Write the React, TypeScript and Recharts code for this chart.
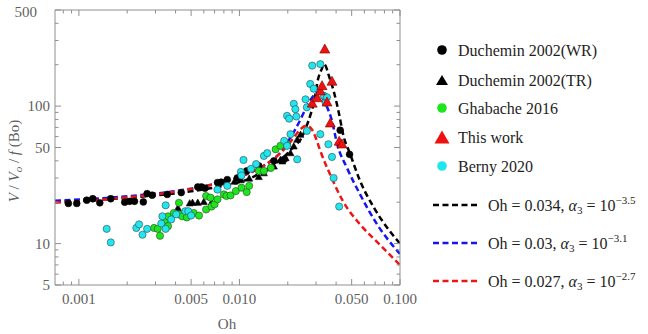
import React from "react";
import { ComposedChart, Line, Scatter, XAxis, YAxis } from "recharts";

// measured points, [Oh, V/Vo/f(Bo)]
const ducheminWR: [number, number][] = [
  [0.00086, 19.6], [0.00097, 19.6], [0.00112, 20.7], [0.00122, 21.2], [0.00135, 19.8],
  [0.00158, 21.2], [0.00193, 20.0], [0.00207, 20.3], [0.00222, 20.3], [0.00252, 20.1],
  [0.00266, 23.1], [0.00286, 22.5], [0.00355, 22.8], [0.00434, 23.5], [0.0055, 25.8],
  [0.0058, 25.8], [0.0061, 25.3], [0.0073, 27.8], [0.0077, 28.0], [0.0084, 29.2],
  [0.0097, 30.0], [0.0111, 33.8], [0.0132, 36.7], [0.0164, 40.0], [0.019, 41.0],
  [0.0424, 66.8], [0.0485, 44.6],
];

const ducheminTR: [number, number][] = [
  [0.00414, 18.3], [0.0049, 19.8], [0.0051, 20.0], [0.0055, 20.0], [0.006, 20.3],
  [0.0067, 20.0], [0.0093, 28.5], [0.0102, 29.2], [0.0115, 30.0], [0.0132, 30.8],
  [0.0142, 32.8], [0.0153, 35.6], [0.0164, 36.7], [0.018, 41.0], [0.0185, 40.0],
  [0.0194, 42.2], [0.0208, 45.9], [0.0218, 51.4], [0.0229, 57.5], [0.024, 62.5],
];

const ghabache: [number, number][] = [
  [0.00294, 13.0], [0.0031, 12.8], [0.0032, 11.4], [0.00342, 14.6], [0.00359, 13.4],
  [0.00359, 15.8], [0.0039, 16.7], [0.0042, 19.8], [0.0042, 16.3], [0.0044, 15.8],
  [0.0047, 15.5], [0.0052, 16.7], [0.0056, 16.0], [0.0062, 22.2], [0.0062, 17.7],
  [0.0066, 21.6], [0.0067, 18.6], [0.007, 19.3], [0.0073, 21.0], [0.008, 22.8],
  [0.0083, 22.2], [0.0088, 22.4], [0.0095, 24.1], [0.0103, 25.5], [0.0111, 23.7],
  [0.0115, 26.3], [0.0132, 33.8], [0.0142, 33.8], [0.0157, 35.6], [0.0168, 48.5],
  [0.018, 51.4], [0.0198, 52.8],
];

const berny: [number, number][] = [
  [0.00149, 12.8], [0.00158, 10.2], [0.00228, 13.0], [0.00237, 13.8], [0.00249, 11.6],
  [0.00266, 12.8], [0.00326, 14.0], [0.00331, 15.8], [0.00347, 12.8], [0.00347, 19.0],
  [0.00376, 15.0], [0.00404, 16.3], [0.0046, 17.2], [0.0048, 17.2], [0.005, 16.0],
  [0.0073, 24.7], [0.0084, 26.3], [0.0102, 33.2], [0.0103, 31.3], [0.0106, 40.6],
  [0.0118, 35.0], [0.0127, 37.9], [0.0142, 43.4], [0.0149, 45.5], [0.019, 55.9],
  [0.0198, 51.4], [0.0198, 85.0], [0.0204, 81.0], [0.0208, 62.5], [0.0218, 104],
  [0.0223, 95.0], [0.0226, 84.0], [0.0229, 41.0], [0.0258, 112], [0.0263, 98.0],
  [0.0263, 66.0], [0.0276, 145], [0.0284, 197], [0.029, 134], [0.0319, 202],
  [0.0319, 62.5], [0.0336, 119], [0.0344, 106], [0.0351, 116], [0.0358, 52.8],
  [0.0377, 42.7], [0.0386, 30.0], [0.0418, 18.6],
];

const thisWork: [number, number][] = [
  [0.0284, 106], [0.0305, 116], [0.0319, 130], [0.0327, 142], [0.034, 262],
  [0.0351, 108], [0.0368, 76], [0.0377, 153], [0.0418, 56], [0.0435, 53.5],
];

// model curves
const blackX = [0.00071, 0.001, 0.0015, 0.002, 0.003, 0.004, 0.005, 0.006, 0.008, 0.01, 0.012, 0.014, 0.016, 0.018, 0.02, 0.022, 0.024, 0.026, 0.028, 0.029, 0.031, 0.0325, 0.0336, 0.0347, 0.0358, 0.0386, 0.0418, 0.0442, 0.049, 0.0564, 0.0685, 0.083, 0.1];
const blackY = [20.1, 20.4, 21.0, 21.5, 22.4, 23.2, 24.0, 24.8, 26.3, 28.0, 30.3, 33.5, 36.8, 40.8, 45.5, 51.5, 57, 70, 90, 104, 160, 185, 202, 192, 171, 129, 87, 62.5, 44.6, 28.6, 18.4, 13.1, 10.0];

const blueX = [0.00071, 0.001, 0.0015, 0.002, 0.003, 0.004, 0.005, 0.006, 0.008, 0.01, 0.012, 0.014, 0.016, 0.018, 0.02, 0.022, 0.024, 0.026, 0.028, 0.0297, 0.031, 0.0325, 0.0344, 0.0377, 0.0406, 0.0467, 0.0564, 0.072, 0.1];
const blueY = [20.5, 20.9, 21.5, 22.1, 23.1, 24.1, 25.1, 26.1, 28.3, 30.6, 33.3, 36.5, 40.5, 46, 55, 66, 80, 97, 113, 123, 127, 118, 104, 78, 53, 35.6, 22.8, 13.8, 8.4];

const redX = [0.00071, 0.001, 0.0015, 0.002, 0.003, 0.004, 0.005, 0.006, 0.008, 0.01, 0.012, 0.014, 0.016, 0.018, 0.02, 0.022, 0.024, 0.0263, 0.0284, 0.03, 0.0319, 0.0368, 0.0442, 0.0564, 0.0751, 0.1];
const redY = [19.9, 20.3, 21.0, 21.7, 22.8, 23.9, 25.0, 26.0, 28.2, 30.6, 33.3, 36.5, 40.5, 45.5, 52, 60, 68, 72, 67, 58, 47.2, 31.6, 20.3, 13.8, 9.8, 7.0];

const xTicks = [0.0008, 0.0009, 0.001, 0.002, 0.003, 0.004, 0.005, 0.006, 0.007, 0.008, 0.009, 0.01, 0.02, 0.03, 0.04, 0.05, 0.06, 0.07, 0.08, 0.09, 0.1];
const xMajor = [0.001, 0.005, 0.01, 0.05, 0.1];
const xLabels = ["0.001", "0.005", "0.010", "0.050", "0.100"];
const yTicks = [5, 6, 7, 8, 9, 10, 20, 30, 40, 50, 60, 70, 80, 90, 100, 200, 300, 400, 500];
const yMajor = [5, 10, 50, 100, 500];
const yLabels = ["5", "10", "50", "100", "500"];

const FRAME = "#8f8f8f";
const TEXT = "#5f5f5f";
const SERIF = "'Liberation Serif', 'Times New Roman', Times, 'DejaVu Serif', 'Noto Serif', serif";
const serif = { fontFamily: SERIF };

const pts = (pairs: [number, number][]) => pairs.map(([x, y]) => ({ x, y }));
const zip = (xs: number[], ys: number[]) => xs.map((x, i) => ({ x, y: ys[i] }));
const majorIndex = (v: number, majors: number[]) => majors.findIndex((m) => Math.abs(m - v) / m < 1e-6);

function BottomTick(props: any) {
  const { x, y, payload } = props;
  const i = majorIndex(payload.value, xMajor);
  return (
    <g>
      <line x1={x} x2={x} y1={y} y2={y - (i >= 0 ? 6 : 3.5)} stroke={FRAME} />
      {i >= 0 && (
        <text x={x} y={y + 19} textAnchor="middle" fill={TEXT} fontSize={15} style={serif}>{xLabels[i]}</text>
      )}
    </g>
  );
}

function TopTick(props: any) {
  const { x, y, payload } = props;
  const i = majorIndex(payload.value, xMajor);
  return <line x1={x} x2={x} y1={y} y2={y + (i >= 0 ? 6 : 3.5)} stroke={FRAME} />;
}

function LeftTick(props: any) {
  const { x, y, payload } = props;
  const i = majorIndex(payload.value, yMajor);
  const top = payload.value === 500;
  return (
    <g>
      <line x1={x} x2={x + (i >= 0 ? 6 : 3.5)} y1={y} y2={y} stroke={FRAME} />
      {i >= 0 && (
        <text x={top ? x - 18 : x - 5} y={y + (top ? 7 : 5)} textAnchor="end" fill={TEXT} fontSize={15} style={serif}>{yLabels[i]}</text>
      )}
    </g>
  );
}

function RightTick(props: any) {
  const { x, y, payload } = props;
  const i = majorIndex(payload.value, yMajor);
  return <line x1={x} x2={x - (i >= 0 ? 6 : 3.5)} y1={y} y2={y} stroke={FRAME} />;
}

const dot = (fill: string, stroke: string, r: number) => (p: any) => (
  <circle cx={p.cx} cy={p.cy} r={r} fill={fill} stroke={stroke} strokeWidth={0.6} />
);
const tri = (fill: string, stroke: string, w: number) => (p: any) => {
  const h = w * 0.9;
  return (
    <polygon
      points={`${p.cx - w / 2},${p.cy + h / 2} ${p.cx + w / 2},${p.cy + h / 2} ${p.cx},${p.cy - h / 2}`}
      fill={fill}
      stroke={stroke}
      strokeWidth={0.6}
    />
  );
};

const dashed = { strokeWidth: 2.5, strokeDasharray: "6 3.5" };

const markerLegend = [
  { label: "Duchemin 2002(WR)", kind: "circle", fill: "#000000", y: 50 },
  { label: "Duchemin 2002(TR)", kind: "tri", fill: "#000000", y: 80 },
  { label: "Ghabache 2016", kind: "circle", fill: "#1ee61e", y: 108 },
  { label: "This work", kind: "bigtri", fill: "#ee1111", y: 137 },
  { label: "Berny 2020", kind: "circle", fill: "#22e6ee", y: 166 },
];
const lineLegend = [
  { oh: "0.034", exp: "\u22123.5", color: "#000000", y: 205 },
  { oh: "0.03", exp: "\u22123.1", color: "#1515ee", y: 243 },
  { oh: "0.027", exp: "\u22122.7", color: "#ee1515", y: 281 },
];

export default function App() {
  return (
    <div style={{ position: "absolute", left: 0, top: 0, width: 648, height: 334, background: "#fff" }}>
      <ComposedChart width={648} height={334} margin={{ top: 10, right: 248, bottom: 0, left: 0 }}>
        <XAxis
          dataKey="x" type="number" scale="log" domain={[0.00071, 0.1]} allowDataOverflow
          ticks={xTicks} interval={0} height={49} tickSize={0} tickMargin={0}
          axisLine={{ stroke: FRAME }} tickLine={false} tick={<BottomTick />}
        />
        <XAxis
          xAxisId="top" orientation="top" dataKey="x" type="number" scale="log" domain={[0.00071, 0.1]} allowDataOverflow
          ticks={xTicks} interval={0} height={1} tickSize={0} tickMargin={0} mirror
          axisLine={{ stroke: FRAME }} tickLine={false} tick={<TopTick />}
        />
        <YAxis
          dataKey="y" type="number" scale="log" domain={[5, 500]} allowDataOverflow
          ticks={yTicks} interval={0} width={55} tickSize={0} tickMargin={0}
          axisLine={{ stroke: FRAME }} tickLine={false} tick={<LeftTick />}
        />
        <YAxis
          yAxisId="right" orientation="right" dataKey="y" type="number" scale="log" domain={[5, 500]} allowDataOverflow
          ticks={yTicks} interval={0} width={1} tickSize={0} tickMargin={0} mirror
          axisLine={{ stroke: FRAME }} tickLine={false} tick={<RightTick />}
        />
        <Scatter data={pts(ducheminWR)} shape={dot("#000000", "#000000", 3.4)} isAnimationActive={false} />
        <Scatter data={pts(ducheminTR)} shape={tri("#000000", "#000000", 7)} isAnimationActive={false} />
        <Scatter data={pts(ghabache)} shape={dot("#1ee61e", "#2a4a2a", 3.6)} isAnimationActive={false} />
        <Scatter data={pts(berny)} shape={dot("#22e6ee", "#2a4a50", 3.6)} isAnimationActive={false} />
        <Line data={zip(blackX, blackY)} dataKey="y" type="monotone" stroke="#000000" {...dashed} dot={false} isAnimationActive={false} />
        <Line data={zip(blueX, blueY)} dataKey="y" type="monotone" stroke="#1515ee" {...dashed} dot={false} isAnimationActive={false} />
        <Line data={zip(redX, redY)} dataKey="y" type="monotone" stroke="#ee1515" {...dashed} dot={false} isAnimationActive={false} />
        <Scatter data={pts(thisWork)} shape={tri("#ee1111", "#7a0000", 10)} isAnimationActive={false} />
        {/* empty series so the top and right frame axes are drawn */}
        <Line xAxisId="top" yAxisId="right" data={[]} dataKey="y" stroke="none" dot={false} isAnimationActive={false} />
      </ComposedChart>

      <svg width={648} height={334} style={{ position: "absolute", left: 0, top: 0, pointerEvents: "none", ...serif }}>
        <text x={227} y={329} textAnchor="middle" fill={TEXT} fontSize={15}>Oh</text>
        <text transform="translate(19,161) rotate(-90)" textAnchor="middle" fill={TEXT} fontSize={15}>
          <tspan fontStyle="italic">V</tspan>
          <tspan> / </tspan>
          <tspan fontStyle="italic">V</tspan>
          <tspan fontStyle="italic" fontSize={11} dy={3}>o</tspan>
          <tspan dy={-3}> / </tspan>
          <tspan fontStyle="italic">f</tspan>
          <tspan> (Bo)</tspan>
        </text>

        {markerLegend.map((m) => (
          <g key={m.label}>
            {m.kind === "circle" && <circle cx={442} cy={m.y} r={4.8} fill={m.fill} />}
            {m.kind === "tri" && <polygon points={`436,${m.y + 5} 448,${m.y + 5} 442,${m.y - 5}`} fill={m.fill} />}
            {m.kind === "bigtri" && <polygon points={`434.5,${m.y + 6.5} 449.5,${m.y + 6.5} 442,${m.y - 6.5}`} fill={m.fill} />}
            <text x={458} y={m.y + 5.5} fill="#1e1e1e" fontSize={16}>{m.label}</text>
          </g>
        ))}

        {lineLegend.map((l) => (
          <g key={l.oh}>
            <line x1={433} x2={478} y1={l.y} y2={l.y} stroke={l.color} strokeWidth={2.5} strokeDasharray="6 3.5" />
            <text x={488} y={l.y + 5.5} fill="#1e1e1e" fontSize={16}>
              <tspan>{`Oh = ${l.oh}, `}</tspan>
              <tspan fontStyle="italic">α</tspan>
              <tspan fontSize={11} dy={3}>3</tspan>
              <tspan dy={-3}>{" = 10"}</tspan>
              <tspan fontSize={11} dy={-7}>{l.exp}</tspan>
            </text>
          </g>
        ))}
      </svg>
    </div>
  );
}
